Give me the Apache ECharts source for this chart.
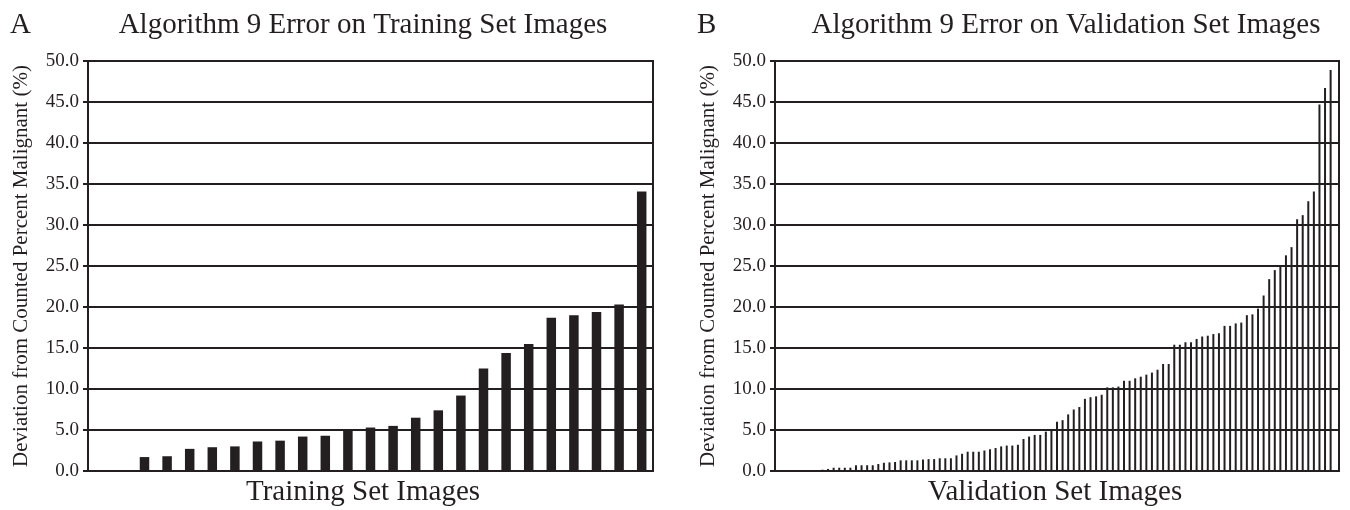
<!DOCTYPE html>
<html>
<head>
<meta charset="utf-8">
<script src="https://cdn.jsdelivr.net/npm/echarts@6/dist/echarts.min.js"></script>
<style>
html,body{margin:0;padding:0;background:#fff;}
#chart{width:1350px;height:510px;}
</style>
</head>
<body>
<div id="chart"></div>
<script>
// ---- Data ----
const yTicks = [0, 5, 10, 15, 20, 25, 30, 35, 40, 45, 50];

const trainCategories = Array.from({length: 25}, (_, i) => 'T' + (i + 1));
const trainValues = [0, 0, 1.7, 1.8, 2.7, 2.9, 3.0, 3.6, 3.7, 4.2, 4.3, 5.0, 5.3, 5.5,
  6.5, 7.4, 9.2, 12.5, 14.4, 15.5, 18.7, 19.0, 19.4, 20.3, 34.1];

const validCategories = Array.from({length: 101}, (_, i) => 'V' + (i + 1));
const validValues = [0, 0, 0, 0, 0,
  0.08, 0.1, 0.1, 0.16, 0.25, 0.4, 0.4, 0.4, 0.4, 0.7,
  0.7, 0.7, 0.7, 0.85, 1.0, 1.05, 1.1, 1.3, 1.3, 1.3,
  1.3, 1.4, 1.45, 1.45, 1.55, 1.55, 1.55, 1.9, 2.1, 2.35,
  2.35, 2.35, 2.5, 2.65, 2.8, 3.0, 3.1, 3.1, 3.2, 3.9,
  4.2, 4.4, 4.4, 4.8, 5.1, 6.0, 6.2, 6.9, 7.5, 7.8,
  8.8, 9.0, 9.1, 9.3, 10.2, 10.2, 10.3, 11.0, 11.0, 11.3,
  11.5, 11.75, 12.0, 12.35, 13.05, 13.05, 15.4, 15.4, 15.7, 15.7,
  16.1, 16.4, 16.5, 16.7, 16.8, 17.7, 17.7, 18.0, 18.1, 19.0,
  19.1, 19.8, 21.4, 23.4, 24.5, 25.1, 26.3, 27.3, 30.7, 31.2,
  32.9, 34.1, 44.7, 46.7, 48.9, 0];

const titleA = 'Algorithm 9 Error on Training Set Images';
const titleB = 'Algorithm 9 Error on Validation Set Images';
const xNameA = 'Training Set Images';
const xNameB = 'Validation Set Images';
const yName = 'Deviation from Counted Percent Malignant (%)';

// ---- Styles ----
const INK = '#231f20';
const FONT = "'Liberation Serif', 'Times New Roman', serif";

function yAxisFor(gridIndex) {
  return {
    type: 'value', gridIndex: gridIndex,
    min: yTicks[0], max: yTicks[yTicks.length - 1], interval: yTicks[1] - yTicks[0],
    name: yName, nameLocation: 'middle', nameGap: 56,
    nameTextStyle: {fontFamily: FONT, fontSize: 21, color: INK},
    axisLine: {show: true, lineStyle: {color: INK, width: 2}},
    axisTick: {show: true, length: 5, lineStyle: {color: INK, width: 2}},
    axisLabel: {fontFamily: FONT, fontSize: 19, color: INK, margin: 9,
      formatter: v => v.toFixed(1)},
    splitLine: {show: true, lineStyle: {color: INK, width: 2}}
  };
}
function xAxisFor(gridIndex, cats) {
  return {
    type: 'category', gridIndex: gridIndex, data: cats,
    axisLine: {show: true, lineStyle: {color: INK, width: 2}},
    axisTick: {show: false},
    axisLabel: {show: false},
    splitLine: {show: false}
  };
}
function text(str, x, y, size, align) {
  return {type: 'text', x: x, y: y,
    style: {text: str, fontFamily: FONT, fontSize: size, fill: INK,
      align: align, verticalAlign: 'middle'}};
}

const chart = echarts.init(document.getElementById('chart'), null, {renderer: 'canvas'});
chart.setOption({
  backgroundColor: '#ffffff',
  animation: false,
  grid: [
    {left: 88, top: 61, width: 565, height: 410, show: true, borderColor: INK, borderWidth: 2},
    {left: 775, top: 61, width: 564, height: 410, show: true, borderColor: INK, borderWidth: 2}
  ],
  xAxis: [xAxisFor(0, trainCategories), xAxisFor(1, validCategories)],
  yAxis: [yAxisFor(0), yAxisFor(1)],
  series: [
    {type: 'bar', xAxisIndex: 0, yAxisIndex: 0, data: trainValues,
      barWidth: '42%', itemStyle: {color: INK}},
    {type: 'bar', xAxisIndex: 1, yAxisIndex: 1, data: validValues,
      barWidth: 2, itemStyle: {color: INK}}
  ],
  graphic: [
    text('A', 10, 25, 29, 'left'),
    text(titleA, 363, 25, 29, 'center'),
    text('B', 697, 25, 29, 'left'),
    text(titleB, 1066, 25, 29, 'center'),
    text(xNameA, 363, 492, 29, 'center'),
    text(xNameB, 1055, 492, 29, 'center')
  ]
});
</script>
</body>
</html>
